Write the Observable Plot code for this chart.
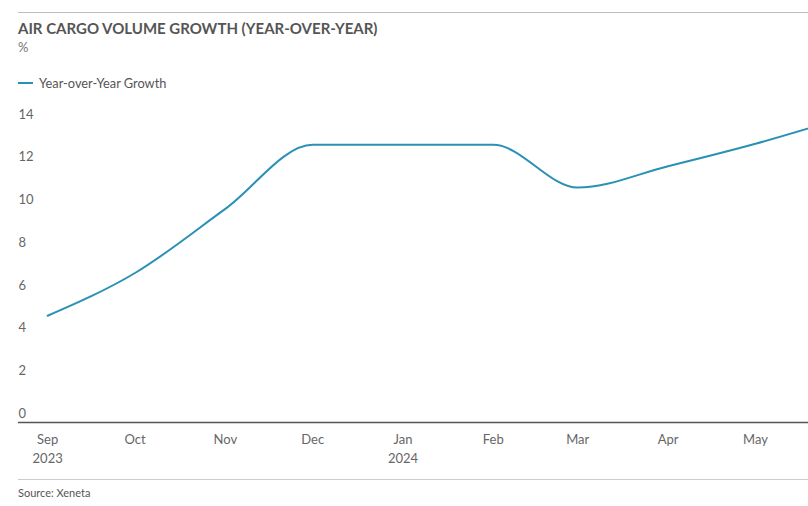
<!DOCTYPE html>
<html>
<head>
<meta charset="utf-8">
<script src="https://cdn.jsdelivr.net/npm/d3@7"></script>
<script src="https://cdn.jsdelivr.net/npm/@observablehq/plot@0.6"></script>
<style>
  html, body { margin: 0; padding: 0; background: #fff; }
  body { width: 808px; height: 506px; overflow: hidden; font-family: Lato, "Open Sans", sans-serif; position: relative; }
  .rule { position: absolute; left: 18px; right: 0; height: 0; border-top: 1px solid #bdbdbd; }
  .title { position: absolute; left: 18px; top: 19px; font-size: 15px; font-weight: 700; color: #555; letter-spacing: 0; }
  .sub { position: absolute; left: 18px; top: 39px; font-size: 13px; color: #777; }
  .legend { position: absolute; left: 18px; top: 75px; font-size: 12.8px; color: #555; display: flex; align-items: center; }
  .legend .sw { width: 15px; height: 2px; background: #2a91b5; margin-right: 6px; }
  #chart { position: absolute; left: 0; top: 100px; }
  .source { position: absolute; left: 18px; top: 486px; font-size: 11px; color: #555; }
</style>
</head>
<body>
<div class="rule" style="top:12px"></div>
<div class="title">AIR CARGO VOLUME GROWTH (YEAR-OVER-YEAR)</div>
<div class="sub">%</div>
<div class="legend"><span class="sw"></span><span>Year-over-Year Growth</span></div>
<div id="chart"></div>
<div class="rule" style="top:479px; border-top-color:#ccc"></div>
<div class="source">Source: Xeneta</div>
<script>
const months = ["2023-09-01","2023-10-01","2023-11-01","2023-12-01","2024-01-01","2024-02-01","2024-03-01","2024-04-01","2024-05-01","2024-06-01"];
const growth = [5.0, 7.0, 10.0, 13.0, 13.0, 13.0, 11.0, 12.0, 13.05, 14.3];
const yTicks = [0, 2, 4, 6, 8, 10, 12, 14];
const xTickDates = ["2023-09-01","2023-10-01","2023-11-01","2023-12-01","2024-01-01","2024-02-01","2024-03-01","2024-04-01","2024-05-01"];
const xTickLabels = ["Sep\n2023","Oct","Nov","Dec","Jan\n2024","Feb","Mar","Apr","May"];

const parse = d3.utcParse("%Y-%m-%d");
const data = months.map((m, i) => ({date: parse(m), value: growth[i]}));
const tickDates = xTickDates.map(parse);
const labelFor = new Map(tickDates.map((d, i) => [+d, xTickLabels[i]]));

const chart = Plot.plot({
  width: 808,
  height: 370,
  marginLeft: 18,
  marginRight: 0,
  marginTop: 23,
  marginBottom: 48,
  style: {fontFamily: "Lato, 'Open Sans', sans-serif", fontSize: "13px", color: "#666", background: "#fff"},
  x: {type: "utc", label: null, domain: [new Date(Date.UTC(2023, 7, 22)), new Date(Date.UTC(2024, 4, 19, 5))]},
  y: {domain: [0, 14], label: null},
  marks: [
    Plot.axisY({anchor: "left", label: null, ticks: yTicks, tickSize: 0, tickPadding: 0, textAnchor: "start", dy: -9, fill: "#666", fontSize: 13}),
    Plot.axisX({label: null, ticks: tickDates, tickSize: 0, tickPadding: 9, tickFormat: d => labelFor.get(+d), fill: "#666", fontSize: 13, lineHeight: 1.4}),
    Plot.ruleY([0], {stroke: "#555", strokeWidth: 1.5}),
    Plot.line(data, {x: "date", y: "value", curve: "monotone-x", stroke: "#2a91b5", strokeWidth: 2, clip: true})
  ]
});
document.getElementById("chart").appendChild(chart);
</script>
</body>
</html>
